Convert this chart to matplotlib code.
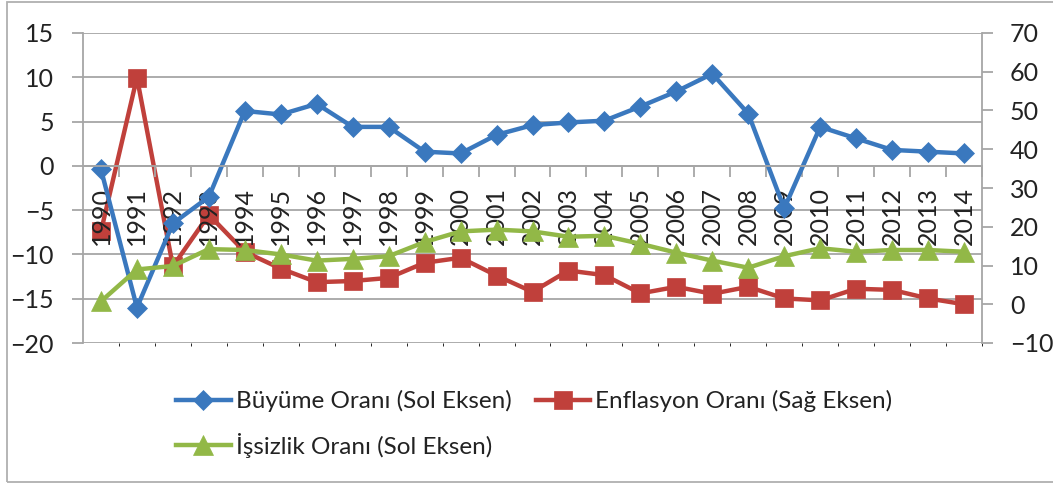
import matplotlib
matplotlib.use("Agg")
import matplotlib.pyplot as plt
from matplotlib.ticker import FixedLocator, NullFormatter
from matplotlib.patches import Rectangle

plt.rcParams['font.family'] = ['Lato', 'DejaVu Sans']

years = [str(y) for y in range(1990, 2015)]
buyume = [-0.4, -16.0, -6.5, -3.5, 6.2, 5.8, 7.0, 4.4, 4.4, 1.6, 1.4, 3.5, 4.6,
          4.9, 5.1, 6.7, 8.4, 10.4, 5.9, -4.8, 4.4, 3.1, 1.8, 1.6, 1.4]
enflasyon = [18.8, 58.5, 9.8, 23.1, 13.5, 9.2, 5.7, 6.0, 6.8, 10.7, 12.0, 7.4, 3.2,
             8.7, 7.5, 2.8, 4.5, 2.7, 4.5, 1.5, 1.0, 4.0, 3.7, 1.5, 0.0]
issizlik = [-15.3, -11.7, -11.3, -9.4, -9.5, -10.0, -10.7, -10.5, -10.2, -8.6, -7.4,
            -7.2, -7.4, -8.0, -7.9, -8.8, -9.8, -10.7, -11.5, -10.2, -9.3, -9.7,
            -9.5, -9.5, -9.7]
labels = ["Büyüme Oranı (Sol Eksen)", "Enflasyon Oranı (Sağ Eksen)",
          "İşsizlik Oranı (Sol Eksen)"]
left_ticks = [15, 10, 5, 0, -5, -10, -15, -20]
right_ticks = [70, 60, 50, 40, 30, 20, 10, 0, -10]

BLUE = "#3A78BE"
RED = "#C0403B"
GREEN = "#92B847"
GRID = "#A6A6A6"
TXT = "#222222"
FS = 18

W, H = 1053, 484
fig = plt.figure(figsize=(W / 100, H / 100), dpi=100)
rect = [83 / W, 1 - 343 / H, (982 - 83) / W, (343 - 33) / H]

x = list(range(len(years)))

# Bottom axes: left scale, grid
ax = fig.add_axes(rect)
ax.set_zorder(1)
ax.set_xlim(-0.5, len(years) - 0.5)
ax.set_ylim(-20, 15)
ax.set_yticks(left_ticks)
ax.yaxis.grid(True, color=GRID, lw=1.3)
ax.tick_params(axis='y', length=8, width=1.3, color=GRID, pad=13,
               labelsize=FS, labelcolor=TXT)
ax.tick_params(axis='x', bottom=False, labelbottom=False)
for s in ['top', 'right', 'bottom']:
    ax.spines[s].set_visible(False)
ax.spines['left'].set_color(GRID)
ax.spines['left'].set_linewidth(1.3)

# Right axes: inflation
axr = ax.twinx()
axr.set_zorder(2)
axr.patch.set_visible(False)
axr.set_ylim(-10, 70)
axr.set_yticks(right_ticks)
axr.tick_params(axis='y', length=8, width=1.3, color=GRID, pad=12,
                labelsize=FS, labelcolor=TXT)
for s in ['top', 'left', 'bottom']:
    axr.spines[s].set_visible(False)
axr.spines['right'].set_color(GRID)
axr.spines['right'].set_linewidth(1.3)
l_red, = axr.plot(x, enflasyon, color=RED, lw=3.2, marker='s', ms=13,
                  mec=RED, mew=0.5, solid_joinstyle='round')

# Top axes: left-scale series and category labels
axt = fig.add_axes(rect, sharex=ax, sharey=ax)
axt.set_zorder(3)
axt.patch.set_visible(False)
for s in ['top', 'left', 'right']:
    axt.spines[s].set_visible(False)
axt.spines['bottom'].set_position(('data', 0))
axt.spines['bottom'].set_color(GRID)
axt.spines['bottom'].set_linewidth(1.3)
axt.tick_params(axis='y', left=False, labelleft=False)
axt.set_xticks(x)
axt.set_xticklabels(years, rotation=90, fontsize=FS, color=TXT, va='top')
axt.tick_params(axis='x', which='major', length=0, pad=15)
axt.xaxis.set_minor_locator(FixedLocator([i - 0.5 for i in range(1, len(years) + 1)]))
axt.xaxis.set_minor_formatter(NullFormatter())
axt.tick_params(axis='x', which='minor', length=8, width=1.3, color=GRID)
l_blue, = axt.plot(x, buyume, color=BLUE, lw=3.2, marker='D', ms=10.5,
                   mec=BLUE, mew=0.5, solid_joinstyle='round', zorder=2)
l_green, = axt.plot(x, issizlik, color=GREEN, lw=3.2, marker='^', ms=14,
                    mec=GREEN, mew=0.5, solid_joinstyle='round', zorder=2.1)
for t in axt.get_xticklabels():
    t.set_zorder(5)

fig.legend([l_blue, l_green, l_red], [labels[0], labels[2], labels[1]],
           ncol=2, loc='upper left', bbox_to_anchor=(176 / W, 1 - 390 / H),
           frameon=False, fontsize=17.5, handlelength=2.25, handletextpad=0.2,
           columnspacing=1.0, labelspacing=0.85, borderaxespad=0,
           borderpad=0, labelcolor=TXT)

fig.patches.append(Rectangle((7 / W, 2 / H), 1.2, 1 - 4 / H,
                             transform=fig.transFigure, fill=False,
                             edgecolor="#B0B0B0", lw=1.3))

fig.savefig("out.png", dpi=100)
